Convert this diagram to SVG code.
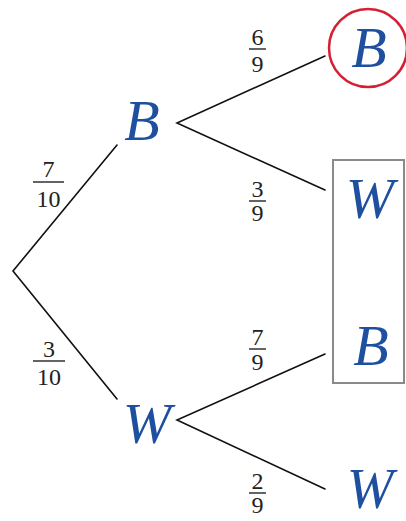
<svg xmlns="http://www.w3.org/2000/svg" width="406" height="521" viewBox="0 0 406 521">
<style>
.lbl{font-family:"Liberation Serif","Times New Roman",serif;font-style:italic;font-size:58px;fill:#1f4f9f;text-anchor:middle}
.num{font-family:"Liberation Serif","Times New Roman",serif;font-size:24px;fill:#222;text-anchor:middle}
.edge{stroke:#111;stroke-width:1.6;fill:none;stroke-linecap:round}
.bar{stroke:#222;stroke-width:1.4}
</style>
<rect width="406" height="521" fill="#fff"/>
<g id="connectors">
<path class="edge" d="M117,145 L13,271 L117,399"/>
<path class="edge" d="M325,56 L177,123 L325,190"/>
<path class="edge" d="M325,354 L177,420 L325,489"/>
</g>
<g id="frac-7-10"><text class="num" x="48.5" y="177">7</text><line class="bar" x1="33" y1="182" x2="64" y2="182"/><text class="num" x="48.5" y="207">10</text></g>
<g id="frac-3-10"><text class="num" x="49" y="357">3</text><line class="bar" x1="33" y1="361" x2="65" y2="361"/><text class="num" x="49" y="385">10</text></g>
<g id="frac-6-9"><text class="num" x="257.5" y="45">6</text><line class="bar" x1="249" y1="49" x2="266" y2="49"/><text class="num" x="257.5" y="72">9</text></g>
<g id="frac-3-9"><text class="num" x="257.5" y="197">3</text><line class="bar" x1="249" y1="201" x2="266" y2="201"/><text class="num" x="257.5" y="221">9</text></g>
<g id="frac-7-9"><text class="num" x="257.5" y="345">7</text><line class="bar" x1="249" y1="349" x2="266" y2="349"/><text class="num" x="257.5" y="370">9</text></g>
<g id="frac-2-9"><text class="num" x="257.5" y="489">2</text><line class="bar" x1="249" y1="493" x2="266" y2="493"/><text class="num" x="257.5" y="513">9</text></g>
<g id="node-B1"><text class="lbl" x="142" y="140">B</text></g>
<g id="node-W1"><text class="lbl" x="147" y="443">W</text></g>
<g id="node-BB"><circle cx="368" cy="48" r="39" fill="none" stroke="#d42032" stroke-width="2.5"/><text class="lbl" x="369" y="67">B</text></g>
<g id="box"><rect x="333" y="160" width="71" height="223" fill="none" stroke="#8a8a8a" stroke-width="2"/></g>
<g id="node-BW"><text class="lbl" x="370" y="218">W</text></g>
<g id="node-WB"><text class="lbl" x="371" y="365">B</text></g>
<g id="node-WW"><text class="lbl" x="370" y="508" style="font-size:56px">W</text></g>
</svg>
